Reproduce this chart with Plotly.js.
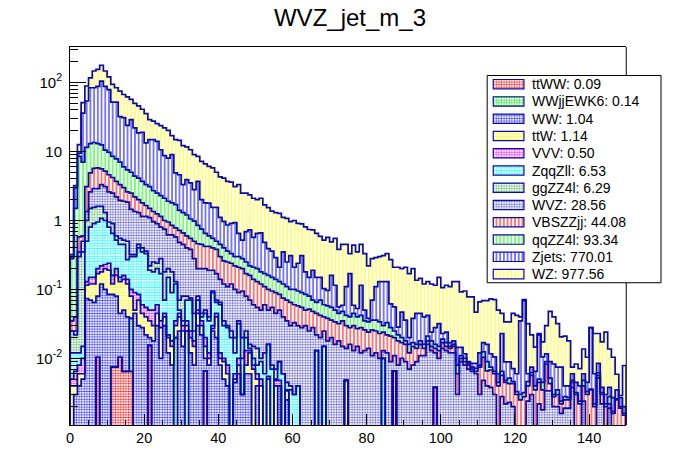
<!DOCTYPE html>
<html>
<head>
<meta charset="utf-8">
<script src="https://cdn.plot.ly/plotly-3.0.1.min.js"></script>
<style>
html,body{margin:0;padding:0;background:#ffffff;}
#chart{width:696px;height:472px;}
</style>
</head>
<body>
<div id="chart"></div>
<script>
// ---------------- DATA ----------------
// Histogram: 150 bins of width 1 on [0,150].
const binStart = 0;
const binWidth = 1;
// Samples in stacking order (bottom -> top) and their legend integrals.
const sampleNames = ['ttWW','WWjjEWK6','WW','ttW','VVV','ZqqZll','ggZZ4l','WVZ','VBSZZjj','qqZZ4l','Zjets','WZ'];
const sampleIntegrals = [0.09, 0.14, 1.04, 1.14, 0.50, 6.53, 6.29, 28.56, 44.08, 93.34, 770.01, 977.56];

// Height of the stack top after adding each sample (THStack draws these cumulative histograms).
const topTtWW = [
0,0,0,0,0,0,0,.0104,0,0,
0,.0075,.0075,.0104,.0065,.0065,.0065,0,0,0,
0,.0155,0,0,0,0,0,0,0,0,
0,0,0,0,0,0,.0066,0,0,0,
0,0,0,0,0,0,0,0,0,0,
0,0,0,0,0,0,0,0,0,0,
0,0,0,0,0,0,0,0,0,0,
0,0,0,0,0,0,0,0,0,0,
0,0,0,0,0,0,0,.0066,0,0,
0,0,0,0,0,0,0,0,0,0,
0,0,0,0,0,0,0,0,0,0,
0,0,0,0,0,0,0,0,0,0,
0,0,0,0,0,0,0,0,0,0,
0,0,0,0,0,0,0,0,0,0,
0,0,0,0,0,0,0,0,0,0];
const topWWjjEWK6 = [
0,0,0,0,0,0,0,.0104,0,0,
0,.0075,.0075,.0104,.0065,.0065,.038,0,0,0,
0,.0155,0,0,0,0,0,0,.02,0,
0,.025,0,0,0,0,.0066,0,0,0,
0,0,0,0,0,0,0,0,0,0,
0,0,0,0,0,0,0,0,0,0,
0,0,0,0,0,0,0,0,0,0,
0,0,0,0,0,0,0,0,0,0,
0,0,0,0,0,0,0,.0066,0,0,
0,0,0,0,0,0,0,0,0,0,
0,0,0,0,0,0,0,0,0,0,
0,0,0,0,0,0,0,0,0,0,
0,0,0,0,0,0,0,0,0,0,
0,0,0,0,0,0,0,0,0,0,
0,0,0,0,0,0,0,0,0,0];
const topWW = [
0,.003,.004,.005,.074,.07,.065,.08,.12,.1,
.085,.085,.08,.045,.05,.04,.038,.045,.03,.028,
.022,.02,.018,.03,.01,.03,.012,.008,.02,.025,
.015,.025,.012,.008,.03,.022,.01,.008,.025,.02,
.008,.005,.004,0,.0045,.006,.003,.006,.006,0,
.004,0,0,0,0,0,.004,0,.0025,0,
0,0,0,0,0,0,0,0,0,0,
0,0,0,0,0,0,0,0,0,0,
0,0,0,0,0,0,0,.0066,0,0,
0,0,0,0,0,0,0,0,0,0,
0,0,0,0,0,0,0,0,0,0,
0,0,0,0,0,0,0,0,0,0,
0,0,0,0,0,0,0,0,0,0,
0,0,0,0,0,0,0,0,0,0,
0,0,0,0,0,0,0,0,0,0];
const topTtW = [
.004,.004,.006,.006,.115,.12,.12,.17,.18,.2,
.19,.12,.16,.13,.14,.12,.08,.05,.07,.045,
.04,.035,.03,.045,.028,.04,.02,.015,.03,.04,
.025,.03,.02,.015,.045,.03,.015,.01,.027,.04,
.01,.009,.006,0,.005,.008,.003,.008,.012,.007,
.005,.004,0,.005,0,.004,.004,0,.0034,0,
0,0,0,0,0,0,0,0,0,0,
0,0,0,0,.0048,0,0,0,0,0,
0,0,0,0,0,0,0,.0066,0,0,
0,0,0,0,0,0,0,0,0,0,
0,0,0,0,0,0,0,0,0,0,
0,0,0,0,0,0,0,0,0,0,
0,0,0,0,0,0,0,0,0,0,
0,0,0,0,0,0,0,0,0,0,
0,0,0,0,0,0,0,0,0,0];
const topVVV = [
.005,.0065,.008,.01,.13,.15,.15,.2,.22,.23,
.24,.16,.2,.15,.16,.14,.1,.09,.085,.06,
.055,.05,.05,.06,.035,.045,.022,.018,.035,.045,
.03,.035,.025,.018,.05,.035,.02,.012,.03,.045,
.012,.01,.008,0,.006,.01,.003,.013,.013,.008,
.006,.005,0,.0055,0,.0048,.0048,0,.0034,0,
0,0,0,0,0,0,0,0,0,0,
0,0,0,0,.0048,0,0,0,0,0,
0,0,0,0,0,0,0,.0066,0,0,
0,0,0,0,0,0,0,0,.0038,0,
0,0,0,0,0,0,0,0,0,0,
0,0,0,0,0,0,0,0,0,0,
0,0,0,0,0,0,0,0,0,0,
0,0,0,0,0,0,0,0,0,0,
0,0,0,0,0,0,0,0,0,0];
const topZqqZll = [
.012,.012,.012,.015,.5,.8,.9,.95,1.07,1.0,
.8,.65,.52,.45,.45,.27,.3,.3,.4,.35,
.33,.19,.18,.2,.17,.07,.15,.09,.12,.05,
.035,.07,.07,.025,.07,.04,.045,.035,.09,.065,
.06,.03,.028,.02,.012,.032,.01,.02,.014,.01,
.008,.009,.006,.016,.007,.005,.009,.006,.0035,.0035,
.003,.004,0,0,0,0,.013,0,.015,0,
0,0,0,0,.0048,0,0,0,0,0,
0,0,0,0,.01,0,0,.0066,0,0,
0,0,0,0,0,0,0,0,.0038,0,
0,0,0,0,0,0,0,0,0,0,
0,0,0,0,0,0,0,0,0,0,
0,0,0,0,0,0,0,0,0,0,
0,0,0,0,0,0,0,0,0,0,
0,0,0,0,0,0,0,0,0,0];
const topGgZZ4l = [
.025,.022,.3,.35,1.0,1.5,1.55,1.6,1.6,1.3,
.95,.9,.6,.55,.52,.5,.32,.32,.45,.4,
.36,.22,.25,.24,.28,.18,.2,.18,.13,.07,
.08,.08,.075,.045,.08,.045,.05,.04,.095,.07,
.065,.035,.03,.025,.02,.035,.02,.025,.016,.015,
.014,.01,.012,.016,.008,.007,.009,.006,.0045,.004,
.003,.004,0,0,0,0,.013,0,.015,0,
0,0,0,0,.0048,0,0,0,0,0,
0,0,0,0,.01,0,0,.0066,0,0,
0,0,0,0,0,0,0,0,.0038,0,
0,0,0,0,0,0,0,0,0,0,
0,0,0,0,0,0,0,0,0,0,
0,0,0,0,0,0,0,0,0,0,
0,0,0,0,0,0,0,0,0,0,
0,0,0,0,0,0,0,0,0,0];
const topWVZ = [
.025,.025,.35,.5,1.35,2.6,2.9,2.9,3.3,3.1,
2.6,2.5,2.2,1.95,1.9,1.85,1.45,1.35,1.3,1.15,
1.15,1.1,.96,.9,.8,.75,.62,.62,.58,.48,
.45,.4,.38,.28,.2,.2,.2,.19,.19,.17,
.14,.12,.11,.12,.1,.09,.095,.08,.07,.06,
.055,.05,.06,.05,.055,.045,.05,.04,.035,.03,
.033,.03,.028,.03,.025,.028,.022,.02,.025,.018,
.02,.016,.018,.015,.014,.016,.013,.015,.012,.013,
.014,.011,.012,.01,.013,.012,.009,.011,.008,.01,
.009,.007,.008,.009,.011,.011,.016,.013,.012,.01,
.014,.013,.012,.012,.003,.009,.008,.007,.0065,.006,
.003,.0048,.004,.0038,.003,0,.0028,.0022,.0023,.002,
0,0,0,.0024,.003,0,.0022,.0018,.0034,.0034,
.002,.002,.0016,.0019,.0019,.0038,0,0,.0024,0,
0,0,.0052,.0022,0,.0019,0,0,0,0];
const topVBSZZjj = [
.035,.04,.58,.6,3.1,4.9,5.7,5.8,5.6,5.2,
4.6,4.2,3.7,3.3,3.0,2.6,2.5,2.2,2.0,1.8,
1.65,1.5,1.35,1.25,1.15,1.0,.95,.85,.78,.72,
.66,.6,.55,.5,.46,.45,.42,.42,.4,.38,
.3,.26,.25,.24,.22,.21,.2,.17,.16,.14,
.13,.12,.11,.1,.095,.09,.085,.075,.07,.065,
.06,.058,.055,.05,.052,.048,.045,.042,.04,.038,
.036,.034,.032,.035,.03,.028,.03,.027,.028,.026,
.024,.026,.025,.023,.024,.022,.021,.02,.018,.017,
.016,.012,.015,.014,.016,.014,.018,.015,.014,.013,
.017,.015,.014,.015,.006,.01,.009,.008,.007,.0065,
.0075,.0104,.0066,.0068,.006,.004,.0057,.0045,.0043,.0043,
.003,.0025,.0028,.004,.0057,.0035,.0045,.0035,.0083,.0043,
.0028,.003,.0022,.0025,.0025,.0045,.003,.0022,.004,.003,
.0035,.002,.0057,.003,.002,.0022,.0016,.0025,.0019,.0015];
const topQqZZ4l = [
.28,1.5,8.5,7.0,11.5,13,13.5,13,12.5,10.5,
9.7,8.5,7.8,7.0,6.0,5.4,5.0,4.4,4.1,3.7,
3.3,3.1,2.7,2.5,2.3,2.1,1.9,1.8,1.7,1.4,
1.3,1.2,1.05,.98,.85,.75,.65,.6,.55,.5,
.45,.4,.36,.33,.3,.3,.28,.25,.22,.21,
.2,.18,.17,.16,.15,.14,.13,.12,.11,.1,
.1,.095,.09,.085,.08,.07,.065,.07,.06,.058,
.055,.05,.045,.048,.042,.04,.045,.04,.042,.035,
.034,.036,.036,.034,.03,.033,.028,.025,.022,.02,
.018,.016,.017,.016,.018,.016,.021,.018,.016,.015,
.019,.017,.015,.016,.008,.011,.01,.0085,.0075,.0072,
.008,.0125,.009,.0075,.0065,.0045,.0065,.0048,.0052,.0046,
.0033,.003,.0032,.0046,.0062,.004,.005,.0045,.009,.0052,
.003,.0035,.0024,.0028,.0027,.0048,.0032,.0024,.0048,.0033,
.0036,.0022,.0062,.0032,.0022,.0028,.0017,.0026,.002,.0016];
const topZjets = [
.3,3.0,9.5,36,54,84,84,88,105,88,
79,52,52,32,31,24,29,22,18.6,19,
13.3,14.9,14.9,14,10.6,8.7,8.0,9.0,4.9,4.6,
3.3,3.9,3.5,2.8,3.7,2.0,1.8,1.78,1.55,1.55,
1.11,.97,.86,.91,.93,.65,.52,.69,.73,.57,
.65,.66,.48,.39,.36,.29,.21,.35,.25,.31,
.21,.24,.31,.18,.15,.19,.15,.15,.103,.097,
.16,.115,.056,.059,.11,.17,.059,.053,.115,.05,
.038,.07,.11,.13,.13,.13,.062,.056,.0285,.047,
.036,.02,.038,.045,.045,.04,.042,.024,.028,.032,
.023,.024,.017,.018,.0145,.0145,.0117,.009,.0085,.0085,
.012,.017,.016,.0117,.0105,.006,.023,.0089,.0089,.0071,
.006,.035,.069,.006,.0075,.0065,.022,.0105,.0117,.009,
.0083,.0075,.0075,.004,.004,.006,.0045,.004,.006,.0045,
.028,.006,.0085,.0038,.003,.0038,.0027,.0035,.0027,.002];
const topWZ = [
.32,3.2,12.6,51,89,117,147,155,178,147,
121,94,84,75,67,62,57,50,46,41,
35.5,29,27.5,25.4,23.8,22,20.3,17,14.9,14.5,
12.2,11.7,10.6,9.0,8.5,7.2,6.6,6.1,5.8,5.0,
4.3,4.1,3.7,3.6,3.1,3.3,2.5,2.5,2.35,2.1,
2.0,2.1,1.68,1.54,1.37,1.30,1.27,1.11,1.07,.96,
1.0,.91,.89,.81,.74,.73,.65,.59,.52,.57,
.49,.55,.38,.45,.45,.33,.44,.35,.45,.33,
.22,.28,.29,.30,.31,.33,.27,.21,.21,.20,
.21,.17,.20,.136,.145,.12,.13,.12,.115,.15,
.106,.115,.11,.13,.13,.092,.095,.078,.078,.047,
.066,.069,.069,.073,.071,.05,.045,.034,.034,.045,
.042,.04,.071,.032,.022,.0146,.023,.0174,.030,.048,
.04,.032,.0205,.021,.018,.0075,.0083,.0071,.0137,.0104,
.028,.023,.023,.0174,.024,.0137,.0104,.0059,.0029,.0079];

// Axis tick labels
const xTickStep = 20;
const yTickValues = [0.01, 0.1, 1, 10, 100];
const yTickLabels = ['10<sup>-2</sup>', '10<sup>-1</sup>', '1', '10', '10<sup>2</sup>'];
const chartTitle = 'WVZ_jet_m_3';

// ---------------- STYLE ----------------
const stackTops = [topTtWW, topWWjjEWK6, topWW, topTtW, topVVV, topZqqZll, topGgZZ4l, topWVZ, topVBSZZjj, topQqZZ4l, topZjets, topWZ];
const sampleColors = ['#ff0000','#00dd00','#1a1aff','#ffff00','#ff00ff','#00ffff','#55b455','#5050c4','#ff0000','#00ff00','#0000ff','#ffff00'];
const sampleHatch  = ['dots','dots','dots','dots','dots','dots','dots','dots','stripes','stripes','stripes','stripes'];
const outlineColor = '#0a0aa6';
const FONT = 'Liberation Sans, Arial, Helvetica, sans-serif';

const W = 696, H = 472;
const frameL = 69.6, frameR = 626.4, frameT = 47.2, frameB = 424.8;
const legL = 487.2, legR = 661.2, legT = 75.7, legB = 282.7;
const plotW = legR - frameL, plotH = frameB - frameT;
const xDomEnd = (frameR - frameL) / plotW;
const nBins = topWZ.length;
const xMax = binStart + nBins * binWidth;

function patternFor(k) {
  if (sampleHatch[k] === 'stripes') {
    return {shape: '|', fgcolor: sampleColors[k], bgcolor: 'white', size: 3.712, solidity: 0.27, fillmode: 'replace'};
  }
  return {shape: '.', fgcolor: sampleColors[k], bgcolor: 'white', size: 2.6, solidity: 0.42, fillmode: 'replace'};
}

const centers = topWZ.map((_, i) => binStart + (i + 0.5) * binWidth);
const traces = [];
// filled cumulative histograms, drawn top-of-stack first
for (let k = stackTops.length - 1; k >= 0; k--) {
  traces.push({
    type: 'bar', x: centers, y: stackTops[k], width: binWidth,
    marker: {color: 'white', pattern: patternFor(k), line: {width: 0}},
    hoverinfo: 'skip', showlegend: false, xaxis: 'x', yaxis: 'y'
  });
}
// histogram contours
const FLOOR = 1e-6;
for (let k = stackTops.length - 1; k >= 0; k--) {
  const v = stackTops[k];
  const xs = [binStart], ys = [FLOOR];
  for (let i = 0; i < nBins; i++) { xs.push(binStart + i * binWidth); ys.push(v[i] > 0 ? v[i] : FLOOR); }
  xs.push(xMax); ys.push(v[nBins - 1] > 0 ? v[nBins - 1] : FLOOR);
  xs.push(xMax); ys.push(FLOOR);
  traces.push({
    type: 'scatter', mode: 'lines', x: xs, y: ys,
    line: {shape: 'hv', color: outlineColor, width: 1.7},
    hoverinfo: 'skip', showlegend: false, xaxis: 'x', yaxis: 'y'
  });
}

// legend swatches (own axes inside the legend box)
const legIdx = sampleNames.map((_, i) => i);
traces.push({
  type: 'bar', orientation: 'h', xaxis: 'x2', yaxis: 'y2',
  y: legIdx, x: legIdx.map(() => 30.7), base: 6.1, width: 0.54,
  marker: {
    color: 'white',
    pattern: {
      shape: legIdx.map(k => patternFor(k).shape),
      fgcolor: legIdx.map(k => sampleColors[k]),
      bgcolor: 'white',
      size: legIdx.map(k => patternFor(k).size),
      solidity: legIdx.map(k => patternFor(k).solidity)
    },
    line: {color: outlineColor, width: 1.2}
  },
  hoverinfo: 'skip', showlegend: false
});

// minor log ticks
const minorVals = [];
for (let e = -3; e <= 2; e++) for (let m = 2; m <= 9; m++) minorVals.push(m * Math.pow(10, e));

const annotations = sampleNames.map((n, k) => ({
  xref: 'x2', yref: 'y2', x: 530 - legL, y: k, xanchor: 'left', yanchor: 'middle',
  text: n + ': ' + sampleIntegrals[k].toFixed(2), showarrow: false,
  font: {family: FONT, size: 14, color: '#000'}
}));

const toPY = (py) => (frameB - py) / plotH;
const toPX = (px) => (px - frameL) / plotW;

const layout = {
  width: W, height: H,
  margin: {l: frameL, r: W - legR, t: frameT, b: H - frameB, pad: 0},
  paper_bgcolor: 'white', plot_bgcolor: 'rgba(0,0,0,0)',
  barmode: 'overlay', bargap: 0, hovermode: false,
  font: {family: FONT, color: '#000'},
  title: {
    text: chartTitle, xref: 'container', yref: 'container',
    x: 350 / W, xanchor: 'center', y: 1 - 18 / H, yanchor: 'middle',
    font: {family: FONT, size: 24, color: '#000'}
  },
  xaxis: {
    domain: [0, xDomEnd], range: [binStart, xMax], anchor: 'y',
    showline: true, linecolor: '#000', linewidth: 1, mirror: true,
    ticks: 'inside', ticklen: 11, tickwidth: 1, tickcolor: '#000',
    tick0: binStart, dtick: xTickStep,
    minor: {dtick: 5, ticks: 'inside', ticklen: 5.5, tickcolor: '#000', tickwidth: 1, showgrid: false},
    showgrid: false, zeroline: false,
    tickfont: {family: FONT, size: 14.5, color: '#000'}
  },
  yaxis: {
    type: 'log', range: [-2.965, 2.515], anchor: 'x',
    showline: true, linecolor: '#000', linewidth: 1, mirror: false,
    ticks: 'inside', ticklen: 16, tickwidth: 1, tickcolor: '#000',
    tickmode: 'array', tickvals: yTickValues, ticktext: yTickLabels,
    minor: {tickmode: 'array', tickvals: minorVals, ticks: 'inside', ticklen: 8, tickcolor: '#000', tickwidth: 1, showgrid: false},
    showgrid: false, zeroline: false, ticklabelstandoff: 4,
    tickfont: {family: FONT, size: 15, color: '#000'}
  },
  xaxis2: {domain: [toPX(legL), 1], range: [0, legR - legL], anchor: 'y2', visible: false, fixedrange: true},
  yaxis2: {domain: [toPY(legB), toPY(legT)], range: [11.5, -0.5], anchor: 'x2', visible: false, fixedrange: true},
  shapes: [
    {type: 'rect', xref: 'paper', yref: 'paper', x0: toPX(legL), x1: 1, y0: toPY(legB), y1: toPY(legT),
     fillcolor: 'white', line: {color: '#000', width: 1}, layer: 'below'},
    {type: 'line', xref: 'paper', yref: 'paper', x0: xDomEnd, x1: xDomEnd, y0: toPY(legT), y1: 1,
     line: {color: '#000', width: 1}, layer: 'above'},
    {type: 'line', xref: 'paper', yref: 'paper', x0: xDomEnd, x1: xDomEnd, y0: 0, y1: toPY(legB),
     line: {color: '#000', width: 1}, layer: 'above'}
  ],
  annotations: annotations
};

Plotly.newPlot('chart', traces, layout, {displayModeBar: false, staticPlot: true});
</script>
</body>
</html>
